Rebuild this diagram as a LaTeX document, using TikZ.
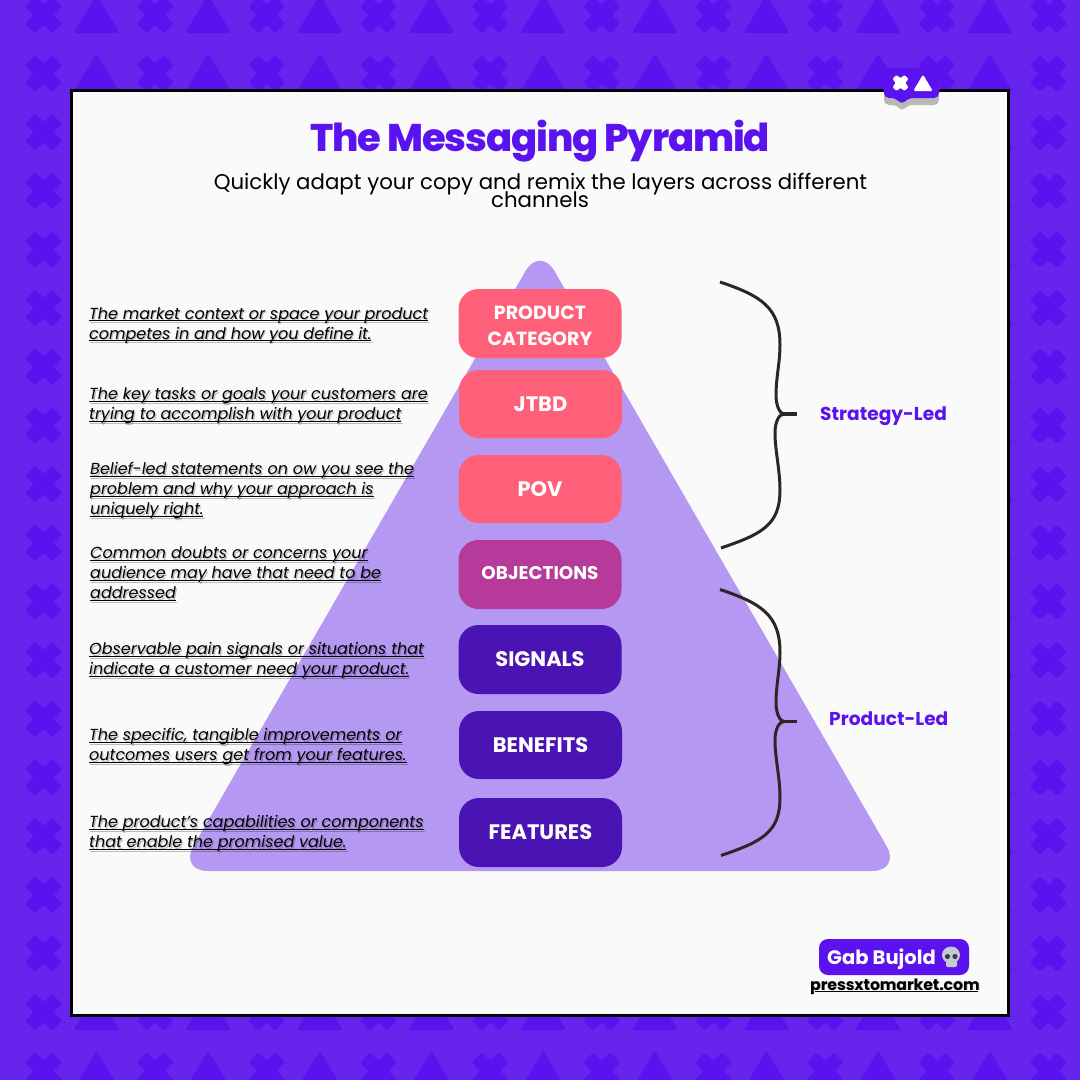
\documentclass[tikz,border=0pt]{standalone}
\usepackage{fontspec}
\setmainfont{Poppins}
\newfontfamily\xbold{Poppins ExtraBold}[LetterSpace=-3.0]
\definecolor{bgv}{HTML}{6624EC}
\definecolor{patv}{HTML}{5A12EE}
\definecolor{cardw}{HTML}{FAFAFA}
\definecolor{pyr}{HTML}{B598F2}
\definecolor{pinkb}{HTML}{FF6079}
\definecolor{magb}{HTML}{B53A9A}
\definecolor{darkb}{HTML}{4A14B4}
\definecolor{bracec}{HTML}{2E2626}
\definecolor{skullc}{HTML}{C4CBD3}
\definecolor{skulld}{HTML}{3A3F44}
\newcommand{\ulin}[1]{\setbox0\hbox{#1}\rlap{\copy0}\rlap{\rule[-2.2pt]{\wd0}{0.8pt}}\hbox to \wd0{}}
\newcommand{\desc}[4]{%
 \node[desctext,text=black,text opacity=.25] (#1s) at (#2+1.2,#3+1.6) {#4};
 \node[desctext] (#1) at (#2,#3) {#4};}
\tikzset{
 x=1pt,y=-1pt,
 desctext/.style={anchor=base west,inner sep=0pt,align=left,font=\fontsize{16}{20}\selectfont\itshape},
 layer/.style={rounded corners=20pt,minimum width=163pt,inner sep=0pt,align=center,text=white,font=\fontsize{21}{26}\selectfont\bfseries},
 bracelabel/.style={text=patv,inner sep=0pt,font=\fontsize{18.6}{20}\selectfont\bfseries},
 bracepath/.style={draw=bracec,line width=3pt,line join=round},
 xmark/.pic={\fill[pic actions,rounded corners=2pt,rotate=45]
   (-7,-19)--(7,-19)--(7,-7)--(19,-7)--(19,7)--(7,7)--(7,19)--(-7,19)--(-7,7)--(-19,7)--(-19,-7)--(-7,-7)--cycle;},
 trimark/.pic={\fill[pic actions,rounded corners=2.5pt] (0,-20)--(23,18)--(-23,18)--cycle;},
}
\begin{document}
\begin{tikzpicture}
\useasboundingbox (0,0) rectangle (1080,1080);
\fill[bgv] (0,0) rectangle (1080,1080);
% pattern
\foreach \r in {0,...,18}{
  \pgfmathsetmacro{\yy}{15+58.66*\r}
  \foreach \c in {0,...,9}{
    \pgfmathsetmacro{\xx}{43.5+111.67*\c}
    \pic[patv] at (\xx,\yy) {xmark};
    \pgfmathsetmacro{\xt}{96.5+111.67*\c}
    \ifnum\c<9 \pic[patv] at (\xt,\yy) {trimark}; \fi
  }
}
% card
\draw[fill=cardw,draw=black,line width=3pt] (71.5,90.5) rectangle (1008.5,1015.5);
% pyramid
\fill[pyr,rounded corners=29pt] (540,246)--(901,871)--(179,871)--cycle;
% title
\node[inner sep=0pt,text=patv,font=\fontsize{38.5}{40}\selectfont\xbold] (title) at (540,141) {The Messaging Pyramid};
\node[inner sep=0pt,anchor=base] (sub) at (540.5,189) {\fontsize{21.3}{18}\selectfont Quickly adapt your copy and remix the layers across different};
\node[inner sep=0pt,anchor=base] (sub2) at (540,207) {\fontsize{21.3}{18}\selectfont channels};
% layers
\node[layer,fill=pinkb,minimum height=69pt,font=\fontsize{19}{26}\selectfont\bfseries] (cat) at (540,323.5) {\raisebox{-2pt}[\height][\depth]{PRODUCT}\\\raisebox{-2pt}[\height][\depth]{CATEGORY}};
\node[layer,fill=pinkb,minimum height=68pt] (jtbd) at (540.5,404) {JTBD};
\node[layer,fill=pinkb,minimum height=68pt] (pov) at (540,489) {POV};
\node[layer,fill=magb,minimum height=69pt,font=\fontsize{18.4}{24}\selectfont\bfseries] (obj) at (540,574.5) {\raisebox{2.5pt}{OBJECTIONS}};
\node[layer,fill=darkb,minimum height=69pt] (sig) at (540,659.5) {SIGNALS};
\node[layer,fill=darkb,minimum height=68pt] (ben) at (540.5,745) {BENEFITS};
\node[layer,fill=darkb,minimum height=69pt] (fea) at (540.5,832.5) {FEATURES};
% descriptions
\desc{d1}{89}{339}{\ulin{The market context or space your product}\\\ulin{competes in and how you define it.}}
\desc{d2}{89}{419.5}{\ulin{The key tasks or goals your customers are}\\\ulin{trying to accomplish with your product}}
\desc{d3}{90}{514.5}{\ulin{Belief-led statements on ow you see the}\\\ulin{problem and why your approach is}\\\ulin{uniquely right.}}
\desc{d4}{90}{598.5}{\ulin{Common doubts or concerns your}\\\ulin{audience may have that need to be}\\\ulin{addressed}}
\desc{d5}{89}{674.5}{\ulin{Observable pain signals or situations that}\\\ulin{indicate a customer need your product.}}
\desc{d6}{89}{760.5}{\ulin{The specific, tangible improvements or}\\\ulin{outcomes users get from your features.}}
\desc{d7}{89}{847.5}{\ulin{The product’s capabilities or components}\\\ulin{that enable the promised value.}}
% braces
\foreach \dy/\nm in {0/a,307.5/b}{
 \begin{scope}[yshift=-\dy pt]
 \draw[bracepath] (720,282) .. controls (762,296) and (780,308) .. (780,345)
   .. controls (780,362) and (776,378) .. (776,395)
   .. controls (776,406) and (780,414) .. (784,414)
   .. controls (779,414) and (775,422) .. (775,433)
   .. controls (775,450) and (780,470) .. (780,490)
   .. controls (780,525) and (762,534) .. (721,548);
 \draw[draw=bracec,line width=3.4pt] (783,414) -- (797,414);
 \end{scope}
}
\node[bracelabel,anchor=west] (strat) at (820,416.5) {Strategy-Led};
\node[bracelabel,anchor=west] (prod) at (829,719) {Product-Led};
% top badge
\fill[black!45,rounded corners=5pt,opacity=.6] (884,75)--(939,75)--(939,105)--(907,105)--(902,112)--(897,105)--(884,105)--cycle;
\fill[patv,rounded corners=5pt] (884,68)--(939,68)--(939,98)--(908,98)--(902,105)--(896,98)--(884,98)--cycle;
\pic[white,scale=.45] at (900.5,83) {xmark};
\fill[white,rounded corners=1.5pt] (923,74.5)--(932.8,91)--(913.2,91)--cycle;
% signature
\node[fill=patv,rounded corners=9pt,minimum width=150pt,minimum height=36pt,inner sep=0pt] (sigbox) at (894,957) {};
\node[inner sep=0pt,anchor=west,text=white,font=\fontsize{19.5}{20}\selectfont\bfseries] (gab) at (827,959.5) {Gab Bujold};
\fill[skullc] (951,955) ellipse (9 and 8.5);
\fill[skullc,rounded corners=1.5pt] (946,960) rectangle (957,967);
\fill[skulld] (947.5,956.5) circle (2.6);
\fill[skulld] (955,956.5) circle (2.6);
\node[inner sep=0pt,anchor=base west,text=black,text opacity=.3,font=\fontsize{15.6}{18}\selectfont\bfseries] (webs) at (810.7,990.7) {pressxtomarket.com};
\node[inner sep=0pt,anchor=base west,font=\fontsize{15.6}{18}\selectfont\bfseries] (web) at (810,990) {pressxtomarket.com};
\draw[line width=1pt] (815,991.5) -- (978,991.5);
\end{tikzpicture}
\end{document}
